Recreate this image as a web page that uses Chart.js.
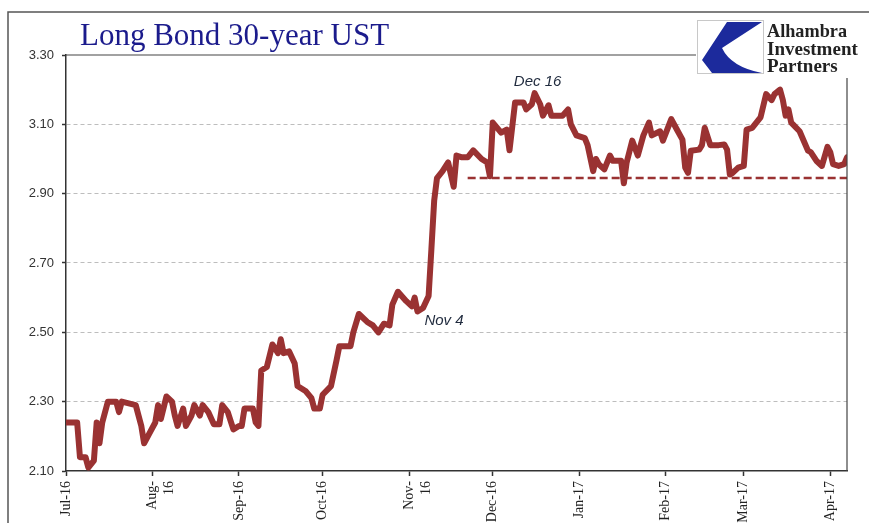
<!DOCTYPE html>
<html>
<head>
<meta charset="utf-8">
<title>Long Bond 30-year UST</title>
<script src="https://cdn.jsdelivr.net/npm/chart.js@4.4.1/dist/chart.umd.min.js"></script>
<style>
  body { margin: 0; background: #fff; }
  canvas { display: block; }
</style>
</head>
<body>
<canvas id="bondChart" width="869" height="523"></canvas>
<script>
// 30-year Treasury yield, Jul 2016 - Apr 2017
const dates = [
  "2016-07-01", "2016-07-05", "2016-07-06", "2016-07-08", "2016-07-09", "2016-07-11", "2016-07-12", "2016-07-13",
  "2016-07-14", "2016-07-16", "2016-07-19", "2016-07-20", "2016-07-21", "2016-07-26", "2016-07-28", "2016-07-29",
  "2016-07-31", "2016-08-02", "2016-08-03", "2016-08-04", "2016-08-06", "2016-08-08", "2016-08-09", "2016-08-10",
  "2016-08-12", "2016-08-13", "2016-08-15", "2016-08-16", "2016-08-18", "2016-08-19", "2016-08-21", "2016-08-23",
  "2016-08-25", "2016-08-26", "2016-08-28", "2016-08-30", "2016-09-01", "2016-09-02", "2016-09-03", "2016-09-06",
  "2016-09-07", "2016-09-08", "2016-09-09", "2016-09-11", "2016-09-13", "2016-09-15", "2016-09-16", "2016-09-17",
  "2016-09-19", "2016-09-21", "2016-09-22", "2016-09-25", "2016-09-27", "2016-09-28", "2016-09-30", "2016-10-01",
  "2016-10-04", "2016-10-06", "2016-10-07", "2016-10-11", "2016-10-12", "2016-10-14", "2016-10-17", "2016-10-19",
  "2016-10-21", "2016-10-23", "2016-10-25", "2016-10-26", "2016-10-28", "2016-10-31", "2016-11-02", "2016-11-03",
  "2016-11-04", "2016-11-06", "2016-11-08", "2016-11-09", "2016-11-10", "2016-11-11", "2016-11-13", "2016-11-15",
  "2016-11-16", "2016-11-17", "2016-11-18", "2016-11-20", "2016-11-22", "2016-11-24", "2016-11-27", "2016-11-29",
  "2016-11-30", "2016-12-01", "2016-12-04", "2016-12-06", "2016-12-07", "2016-12-09", "2016-12-12", "2016-12-13",
  "2016-12-15", "2016-12-16", "2016-12-18", "2016-12-19", "2016-12-21", "2016-12-22", "2016-12-26", "2016-12-28",
  "2016-12-29", "2016-12-31", "2017-01-03", "2017-01-04", "2017-01-06", "2017-01-07", "2017-01-08", "2017-01-10",
  "2017-01-12", "2017-01-13", "2017-01-16", "2017-01-17", "2017-01-18", "2017-01-20", "2017-01-22", "2017-01-24",
  "2017-01-26", "2017-01-27", "2017-01-30", "2017-01-31", "2017-02-03", "2017-02-05", "2017-02-07", "2017-02-08",
  "2017-02-09", "2017-02-10", "2017-02-13", "2017-02-14", "2017-02-15", "2017-02-17", "2017-02-20", "2017-02-22",
  "2017-02-23", "2017-02-24", "2017-02-25", "2017-02-27", "2017-03-01", "2017-03-02", "2017-03-04", "2017-03-06",
  "2017-03-07", "2017-03-09", "2017-03-11", "2017-03-12", "2017-03-14", "2017-03-15", "2017-03-16", "2017-03-17",
  "2017-03-18", "2017-03-21", "2017-03-24", "2017-03-25", "2017-03-27", "2017-03-29", "2017-03-31", "2017-04-01",
  "2017-04-02", "2017-04-04", "2017-04-06", "2017-04-07"
];
const yields = [
  2.24, 2.24, 2.14, 2.14, 2.11, 2.13, 2.24, 2.18,
  2.24, 2.30, 2.30, 2.27, 2.30, 2.29, 2.23, 2.18,
  2.21, 2.24, 2.29, 2.25, 2.315, 2.30, 2.26, 2.23,
  2.28, 2.23, 2.26, 2.29, 2.26, 2.29, 2.27, 2.235,
  2.235, 2.29, 2.27, 2.22, 2.23, 2.23, 2.28, 2.28,
  2.24, 2.23, 2.39, 2.40, 2.465, 2.44, 2.48, 2.44,
  2.445, 2.41, 2.345, 2.33, 2.31, 2.28, 2.28, 2.32,
  2.345, 2.42, 2.46, 2.46, 2.50, 2.553, 2.53, 2.52,
  2.50, 2.525, 2.52, 2.58, 2.617, 2.59, 2.575, 2.60,
  2.56, 2.57, 2.605, 2.74, 2.88, 2.945, 2.965, 2.99,
  2.955, 2.92, 3.01, 3.005, 3.005, 3.025, 3.00, 2.99,
  2.95, 3.105, 3.076, 3.085, 3.025, 3.163, 3.163, 3.143,
  3.158, 3.19, 3.158, 3.125, 3.155, 3.125, 3.125, 3.143,
  3.10, 3.068, 3.06, 3.04, 2.965, 3.00, 2.985, 2.97,
  3.01, 2.995, 2.995, 2.93, 2.99, 3.053, 3.01, 3.068,
  3.105, 3.068, 3.08, 3.053, 3.115, 3.085, 3.056, 2.975,
  2.96, 3.024, 3.027, 3.04, 3.09, 3.04, 3.04, 3.042,
  3.027, 2.955, 2.96, 2.975, 2.98, 3.085, 3.09, 3.11,
  3.12, 3.187, 3.17, 3.187, 3.20, 3.17, 3.125, 3.143,
  3.105, 3.08, 3.024, 3.02, 2.995, 2.98, 3.035, 3.02,
  2.985, 2.98, 2.985, 3.005
];

// dashed floor line since late November
const supportLevel = 2.945;
const supportFrom = "2016-11-22";
const supportTo = "2017-04-07";

const monthStarts = [
  "2016-07-01", "2016-08-01", "2016-09-01", "2016-10-01", "2016-11-01",
  "2016-12-01", "2017-01-01", "2017-02-01", "2017-03-01", "2017-04-01"
];
const monthLabels = [
  "Jul-16", ["Aug-", "16"], "Sep-16", "Oct-16", ["Nov-", "16"],
  "Dec-16", "Jan-17", "Feb-17", "Mar-17", "Apr-17"
];

const yMin = 2.10;
const yMax = 3.30;
const yStep = 0.20;

const noteDates = ["2016-11-04", "2016-12-16"];
const noteTexts = ["Nov 4", "Dec 16"];

const DAY = 86400000;
const t0 = Date.parse(monthStarts[0]);
function dayOf(d) {
  return (Date.parse(d) - t0) / DAY;
}

const lineColor = "#9a3232";

// frame, title, logo and the two date notes
const decorations = {
  id: "decorations",
  beforeDraw(chart) {
    const ctx = chart.ctx;
    ctx.save();
    ctx.fillStyle = "#fff";
    ctx.fillRect(0, 0, chart.width, chart.height);
    ctx.restore();
  },
  afterDraw(chart) {
    const ctx = chart.ctx;
    const area = chart.chartArea;
    const xs = chart.scales.x;
    const ys = chart.scales.y;
    ctx.save();

    // outer frame
    ctx.strokeStyle = "#555";
    ctx.lineWidth = 1.5;
    ctx.beginPath();
    ctx.moveTo(8, chart.height);
    ctx.lineTo(8, 12);
    ctx.lineTo(chart.width, 12);
    ctx.stroke();

    // top and right edge of plot box (cut by the logo)
    ctx.strokeStyle = "#444";
    ctx.lineWidth = 1.2;
    ctx.beginPath();
    ctx.moveTo(area.left, area.top);
    ctx.lineTo(696, area.top);
    ctx.moveTo(area.right, 78);
    ctx.lineTo(area.right, area.bottom);
    ctx.stroke();

    // title
    ctx.fillStyle = "#1b1b8c";
    ctx.font = "31px 'Liberation Serif', serif";
    ctx.textAlign = "left";
    ctx.textBaseline = "alphabetic";
    ctx.fillText("Long Bond 30-year UST", 80, 45, 313);

    // logo
    ctx.fillStyle = "#fff";
    ctx.fillRect(697, 20, 67, 54);
    ctx.strokeStyle = "#c8c8c8";
    ctx.lineWidth = 1;
    ctx.strokeRect(697.5, 20.5, 66, 53);
    ctx.fillStyle = "#1c2a9c";
    ctx.beginPath();
    ctx.moveTo(727, 22);
    ctx.lineTo(762, 22);
    ctx.lineTo(722, 48);
    ctx.quadraticCurveTo(731, 67, 762, 73);
    ctx.lineTo(712, 73);
    ctx.lineTo(702, 60);
    ctx.closePath();
    ctx.fill();

    ctx.fillStyle = "#222";
    ctx.font = "bold 19px 'Liberation Serif', serif";
    ctx.fillText("Alhambra", 767, 37, 80);
    ctx.fillText("Investment", 767, 55, 97);
    ctx.fillText("Partners", 767, 72, 78);

    // date notes
    ctx.fillStyle = "#1f2a3d";
    ctx.font = "italic 15px 'Liberation Sans', sans-serif";
    noteDates.forEach((d, i) => {
      const v = yields[dates.indexOf(d)];
      const px = xs.getPixelForValue(dayOf(d));
      const py = ys.getPixelForValue(v);
      if (v < 3) {
        ctx.textAlign = "left";
        ctx.fillText(noteTexts[i], px + 7, py + 13);
      } else {
        ctx.textAlign = "center";
        ctx.fillText(noteTexts[i], px + 3, py - 7);
      }
    });

    ctx.restore();
  }
};

const ctx = document.getElementById("bondChart").getContext("2d");
new Chart(ctx, {
  type: "line",
  data: {
    datasets: [{
      label: "30-year UST",
      data: dates.map((d, i) => ({ x: dayOf(d), y: yields[i] })),
      borderColor: lineColor,
      borderWidth: 6,
      borderJoinStyle: "round",
      borderCapStyle: "round",
      pointRadius: 0,
      tension: 0,
      fill: false
    }, {
      label: "floor",
      data: [
        { x: dayOf(supportFrom), y: supportLevel },
        { x: dayOf(supportTo), y: supportLevel }
      ],
      borderColor: lineColor,
      borderWidth: 2.5,
      borderDash: [8, 4],
      pointRadius: 0,
      fill: false
    }]
  },
  options: {
    responsive: false,
    animation: false,
    events: [],
    layout: { padding: { top: 55, right: 22, left: 0, bottom: 0 } },
    plugins: {
      legend: { display: false },
      tooltip: { enabled: false }
    },
    scales: {
      x: {
        type: "linear",
        min: 0,
        max: dayOf(supportTo),
        afterBuildTicks(scale) {
          scale.ticks = monthStarts.map(m => ({ value: dayOf(m) }));
        },
        afterFit(scale) {
          scale.height = 52;
          scale.paddingLeft = 0;
          scale.paddingRight = 0;
        },
        grid: {
          drawOnChartArea: false,
          drawTicks: true,
          tickLength: 5,
          tickColor: "#333",
          tickWidth: 1.5
        },
        border: { color: "#333", width: 1.5 },
        ticks: {
          autoSkip: false,
          minRotation: 90,
          maxRotation: 90,
          padding: 5,
          color: "#222",
          font: { family: "'Liberation Serif', serif", size: 14 },
          callback: (value, index) => monthLabels[index]
        }
      },
      y: {
        min: yMin,
        max: yMax,
        afterFit(scale) {
          scale.width = 66;
          scale.paddingTop = 0;
          scale.paddingBottom = 0;
        },
        grid: {
          color: c => (c.tick && c.tick.value > yMin + 0.01 && c.tick.value < yMax - 0.01) ? "#bdbdbd" : "rgba(0,0,0,0)",
          lineWidth: 1,
          tickLength: 4,
          tickColor: "#333",
          tickWidth: 1.5,
          tickBorderDash: []
        },
        border: { color: "#333", width: 1.5, dash: [4, 3] },
        ticks: {
          stepSize: yStep,
          padding: 8,
          color: "#333",
          font: { family: "'Liberation Sans', sans-serif", size: 13 },
          callback: v => v.toFixed(2)
        }
      }
    }
  },
  plugins: [decorations]
});
</script>
</body>
</html>
